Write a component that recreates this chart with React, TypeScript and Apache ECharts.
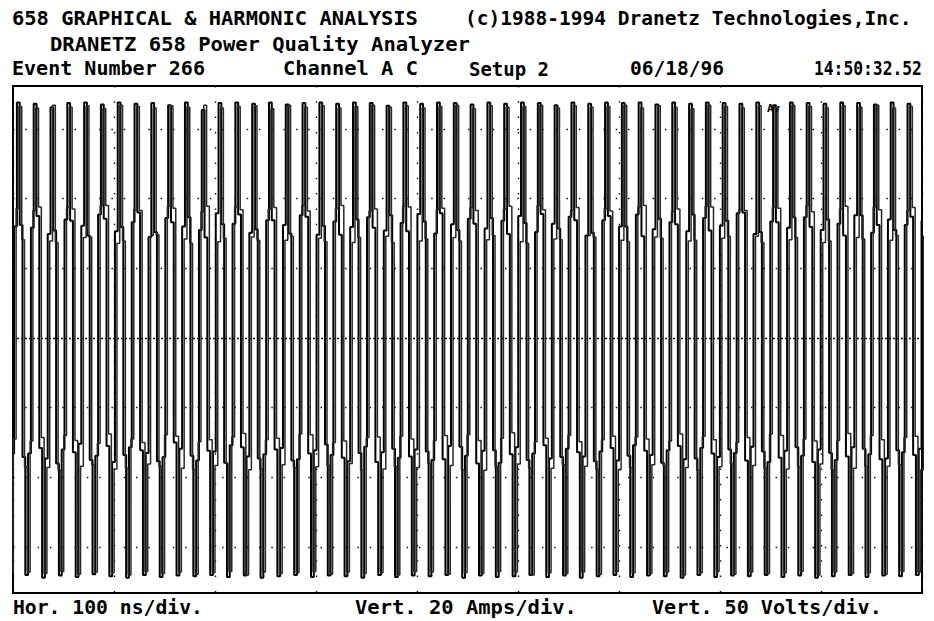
import React, { useEffect, useRef } from "react";
import * as echarts from "echarts";

// ---------- DATA ----------
// Header / footer texts
const TITLE_LEFT = "658 GRAPHICAL & HARMONIC ANALYSIS";
const TITLE_RIGHT = "(c)1988-1994 Dranetz Technologies,Inc.";
const SUBTITLE = "DRANETZ 658 Power Quality Analyzer";
const INFO_ROW = ["Event Number 266", "Channel A C", "Setup 2", "06/18/96", "14:50:32.52"];
const FOOTER_ROW = ["Hor. 100 ns/div.", "Vert. 20 Amps/div.", "Vert. 50 Volts/div."];
const MARKER_TEXT = "Av";

// Horizontal axis: 9 divisions of 100 ns
const X_MIN_NS = 0;
const X_MAX_NS = 900;
const X_DIV_NS = 100;
// Vertical axis in divisions about the centre line
const Y_MIN_DIV = -3.66;
const Y_MAX_DIV = 3.615;
const GRID_ROWS = [-3, -2, -1, 1, 2, 3];
const CENTER_ROW = 0;

// Sample clock of the record (ns): six samples per cycle
const FIRST_PEAK_NS = 5.25;
const SAMPLE_NS = 2.773;
const TRACE_B_SHIFT_NS = 2.0;
const LEAD_SAMPLES = 3;

// Trace A samples (divisions). First three samples precede the first peak,
// then one row per cycle: peak, falling knee, falling knee, trough, rising knee, rising knee
const TRACE_A = [
  -3.42, -1.66, 1.60,
  3.38, 1.62, -1.71, -3.40, -1.66, 1.58,
  3.36, 1.75, -1.58, -3.44, -1.73, 1.49,
  3.31, 1.54, -1.80, -3.41, -1.60, 1.70,
  3.37, 1.68, -1.64, -3.43, -1.52, 1.61,
  3.38, 1.47, -1.75, -3.39, -1.69, 1.77,
  3.35, 1.71, -1.55, -3.42, -1.78, 1.53,
  3.38, 1.59, -1.68, -3.44, -1.57, 1.66,
  3.36, 1.80, -1.61, -3.40, -1.65, 1.45,
  3.37, 1.52, -1.77, -3.43, -1.71, 1.72,
  3.34, 1.66, -1.50, -3.41, -1.59, 1.60,
  3.38, 1.73, -1.69, -3.42, -1.76, 1.55,
  3.27, 1.44, -1.62, -3.40, -1.63, 1.79,
  3.37, 1.63, -1.79, -3.43, -1.54, 1.64,
  3.38, 1.77, -1.57, -3.41, -1.70, 1.51,
  3.36, 1.56, -1.73, -3.44, -1.67, 1.69,
  3.38, 1.69, -1.60, -3.42, -1.58, 1.62,
  3.35, 1.50, -1.76, -3.40, -1.74, 1.76,
  3.37, 1.74, -1.66, -3.43, -1.61, 1.48,
  3.38, 1.61, -1.53, -3.41, -1.68, 1.67,
  3.36, 1.48, -1.72, -3.42, -1.77, 1.59,
  3.38, 1.70, -1.65, -3.44, -1.56, 1.73,
  3.37, 1.58, -1.78, -3.40, -1.64, 1.54,
  3.33, 1.76, -1.59, -3.43, -1.72, 1.65,
  3.38, 1.53, -1.70, -3.41, -1.60, 1.78,
  3.36, 1.67, -1.63, -3.42, -1.75, 1.50,
  3.38, 1.79, -1.74, -3.40, -1.55, 1.63,
  3.37, 1.55, -1.56, -3.44, -1.69, 1.71,
  3.35, 1.64, -1.80, -3.41, -1.62, 1.57,
  3.38, 1.72, -1.61, -3.43, -1.79, 1.68,
  3.36, 1.49, -1.67, -3.42, -1.57, 1.75,
  3.38, 1.65, -1.75, -3.40, -1.66, 1.52,
  3.37, 1.78, -1.54, -3.43, -1.73, 1.64,
  3.34, 1.57, -1.71, -3.41, -1.59, 1.74,
  3.38, 1.69, -1.64, -3.44, -1.70, 1.47,
  3.36, 1.51, -1.77, -3.42, -1.63, 1.69,
  3.38, 1.75, -1.58, -3.40, -1.76, 1.60,
  3.37, 1.60, -1.69, -3.43, -1.54, 1.77,
  3.38, 1.46, -1.62, -3.41, -1.68, 1.56,
  3.35, 1.71, -1.79, -3.42, -1.61, 1.66,
  3.38, 1.63, -1.55, -3.44, -1.74, 1.53,
  3.36, 1.77, -1.73, -3.40, -1.58, 1.72,
  3.38, 1.54, -1.66, -3.43, -1.71, 1.61,
  3.37, 1.68, -1.60, -3.41, -1.65, 1.79,
  3.36, 1.80, -1.76, -3.42, -1.56, 1.49,
  3.38, 1.52, -1.63, -3.40, -1.78, 1.67,
  3.34, 1.66, -1.72, -3.43, -1.62, 1.58,
  3.38, 1.73, -1.57, -3.41, -1.69, 1.73,
  3.37, 1.59, -1.78, -3.44, -1.60, 1.55,
  3.36, 1.70, -1.65, -3.42, -1.75, 1.64,
  3.38, 1.47, -1.70, -3.40, -1.57, 1.76,
  3.37, 1.76, -1.59, -3.43, -1.67, 1.51,
  3.35, 1.62, -1.74, -3.41, -1.73, 1.70,
  3.38, 1.55, -1.61, -3.42, -1.64, 1.62,
  3.36, 1.74, -1.68, -3.40, -1.59, 1.68,
  3.38,
];

// Trace B samples, same layout
const TRACE_B = [
  -3.36, -1.45, 1.86,
  3.32, 1.41, -1.85, -3.36, -1.48, 1.83,
  3.30, 1.88, -1.43, -3.38, -1.86, 1.39,
  3.34, 1.37, -1.90, -3.35, -1.40, 1.87,
  3.31, 1.85, -1.47, -3.39, -1.84, 1.44,
  3.33, 1.45, -1.82, -3.36, -1.51, 1.90,
  3.29, 1.90, -1.38, -3.37, -1.88, 1.36,
  3.34, 1.39, -1.87, -3.40, -1.45, 1.84,
  3.32, 1.83, -1.50, -3.35, -1.81, 1.47,
  3.30, 1.48, -1.84, -3.38, -1.39, 1.89,
  3.33, 1.86, -1.41, -3.36, -1.87, 1.42,
  3.31, 1.36, -1.89, -3.39, -1.49, 1.81,
  3.34, 1.89, -1.46, -3.37, -1.83, 1.38,
  3.30, 1.43, -1.81, -3.35, -1.42, 1.88,
  3.32, 1.84, -1.37, -3.40, -1.89, 1.45,
  3.33, 1.40, -1.88, -3.36, -1.46, 1.85,
  3.29, 1.87, -1.44, -3.38, -1.82, 1.40,
  3.34, 1.46, -1.86, -3.37, -1.38, 1.90,
  3.31, 1.82, -1.39, -3.35, -1.85, 1.43,
  3.33, 1.38, -1.83, -3.39, -1.50, 1.86,
  3.30, 1.90, -1.48, -3.36, -1.80, 1.37,
  3.32, 1.44, -1.90, -3.38, -1.43, 1.82,
  3.34, 1.85, -1.42, -3.37, -1.88, 1.46,
  3.31, 1.37, -1.85, -3.40, -1.41, 1.89,
  3.33, 1.88, -1.45, -3.35, -1.86, 1.39,
  3.30, 1.42, -1.80, -3.36, -1.47, 1.84,
  3.32, 1.86, -1.40, -3.39, -1.83, 1.44,
  3.34, 1.39, -1.89, -3.37, -1.39, 1.87,
  3.29, 1.83, -1.47, -3.38, -1.90, 1.41,
  3.33, 1.47, -1.84, -3.35, -1.44, 1.85,
  3.31, 1.89, -1.36, -3.36, -1.81, 1.38,
  3.32, 1.36, -1.87, -3.40, -1.49, 1.90,
  3.34, 1.84, -1.44, -3.37, -1.87, 1.42,
  3.30, 1.41, -1.82, -3.38, -1.40, 1.83,
  3.33, 1.87, -1.49, -3.36, -1.84, 1.47,
  3.31, 1.45, -1.88, -3.39, -1.46, 1.86,
  3.32, 1.82, -1.41, -3.35, -1.89, 1.40,
  3.34, 1.38, -1.86, -3.37, -1.42, 1.88,
  3.30, 1.90, -1.45, -3.38, -1.82, 1.45,
  3.33, 1.43, -1.83, -3.36, -1.48, 1.81,
  3.31, 1.85, -1.38, -3.40, -1.86, 1.39,
  3.29, 1.40, -1.90, -3.37, -1.41, 1.89,
  3.34, 1.88, -1.46, -3.35, -1.85, 1.43,
  3.32, 1.46, -1.81, -3.39, -1.50, 1.84,
  3.30, 1.83, -1.43, -3.36, -1.83, 1.46,
  3.33, 1.37, -1.87, -3.38, -1.38, 1.87,
  3.31, 1.86, -1.40, -3.37, -1.88, 1.41,
  3.34, 1.44, -1.85, -3.35, -1.45, 1.90,
  3.32, 1.81, -1.48, -3.40, -1.81, 1.37,
  3.30, 1.39, -1.89, -3.36, -1.47, 1.85,
  3.33, 1.89, -1.37, -3.38, -1.87, 1.44,
  3.31, 1.42, -1.84, -3.37, -1.40, 1.88,
  3.34, 1.84, -1.46, -3.39, -1.84, 1.40,
  3.30, 1.47, -1.82, -3.35, -1.43, 1.83,
  3.32, 1.87, -1.41, -3.36, -1.89, 1.46,
  3.33,
];

// ---------- LAYOUT ----------
const FONT_FAMILY = '"DejaVu Sans Mono", "Liberation Mono", monospace';
const FONT_SIZE = 19;
const CHAR_ADV = 0.602;

type TextSpot = { text: string; x: number; y: number; w: number };

const TEXT_SPOTS: TextSpot[] = [
  { text: TITLE_LEFT, x: 12, y: 19, w: 406 },
  { text: TITLE_RIGHT, x: 465, y: 19, w: 447 },
  { text: SUBTITLE, x: 50, y: 45, w: 420 },
  { text: INFO_ROW[0], x: 12, y: 69, w: 193 },
  { text: INFO_ROW[1], x: 283, y: 69, w: 135 },
  { text: INFO_ROW[2], x: 469, y: 69, w: 80 },
  { text: INFO_ROW[3], x: 630, y: 69, w: 94 },
  { text: INFO_ROW[4], x: 814, y: 69, w: 108 },
  { text: FOOTER_ROW[0], x: 13, y: 608, w: 190 },
  { text: FOOTER_ROW[1], x: 355, y: 608, w: 222 },
  { text: FOOTER_ROW[2], x: 652, y: 608, w: 230 },
];

export default function App() {
  const ref = useRef<HTMLDivElement>(null);

  useEffect(() => {
    if (!ref.current) return;
    const chart = echarts.init(ref.current, undefined, { renderer: "svg" });

    const dataA = TRACE_A.map((v, k) => [FIRST_PEAK_NS + (k - LEAD_SAMPLES) * SAMPLE_NS, v]);
    const dataB = TRACE_B.map((v, k) => [
      FIRST_PEAK_NS + TRACE_B_SHIFT_NS + (k - LEAD_SAMPLES) * SAMPLE_NS,
      v,
    ]);

    const texts = TEXT_SPOTS.map((s) => ({
      type: "text",
      x: s.x,
      y: s.y,
      scaleX: s.w / (s.text.length * CHAR_ADV * FONT_SIZE),
      silent: true,
      style: {
        text: s.text,
        font: `bold ${FONT_SIZE}px ${FONT_FAMILY}`,
        fill: "#000",
        align: "left",
        verticalAlign: "middle",
      },
    }));

    const option: any = {
      animation: false,
      backgroundColor: "#fff",
      grid: {
        left: 13,
        top: 86,
        width: 909,
        height: 507,
        show: true,
        borderColor: "#000",
        borderWidth: 2,
        backgroundColor: "#fff",
      },
      xAxis: {
        type: "value",
        min: X_MIN_NS,
        max: X_MAX_NS,
        interval: X_DIV_NS,
        axisLine: { show: false },
        axisTick: { show: false },
        axisLabel: { show: false },
        splitLine: {
          show: true,
          lineStyle: { color: "#111", width: 1.4, type: [1.5, 13.8] },
        },
      },
      yAxis: {
        type: "value",
        min: Y_MIN_DIV,
        max: Y_MAX_DIV,
        axisLine: { show: false },
        axisTick: { show: false },
        axisLabel: { show: false },
        splitLine: { show: false },
      },
      series: [
        {
          type: "line",
          name: "Trace A",
          data: dataA,
          step: "middle",
          showSymbol: false,
          symbol: "none",
          clip: true,
          lineStyle: { color: "#000", width: 2 },
          markLine: {
            silent: true,
            symbol: "none",
            label: { show: false },
            animation: false,
            lineStyle: { color: "#111", width: 1.4, type: [1.5, 10.8] },
            data: [
              ...GRID_ROWS.map((r) => ({ yAxis: r })),
              {
                yAxis: CENTER_ROW,
                lineStyle: { color: "#111", width: 1.4, type: [2, 2] },
              },
            ],
          },
        },
        {
          type: "line",
          name: "Trace B",
          data: dataB,
          step: "middle",
          showSymbol: false,
          symbol: "none",
          clip: true,
          lineStyle: { color: "#2a2a2a", width: 1.5 },
        },
      ],
      graphic: [
        ...texts,
        {
          type: "text",
          x: 767,
          y: 108,
          silent: true,
          style: {
            text: MARKER_TEXT,
            font: `bold 11px ${FONT_FAMILY}`,
            fill: "#000",
            align: "left",
            verticalAlign: "middle",
          },
        },
      ],
    };

    chart.setOption(option);
    return () => chart.dispose();
  }, []);

  return (
    <div
      ref={ref}
      style={{
        position: "absolute",
        left: 0,
        top: 0,
        width: 934,
        height: 621,
        background: "#fff",
      }}
    />
  );
}
